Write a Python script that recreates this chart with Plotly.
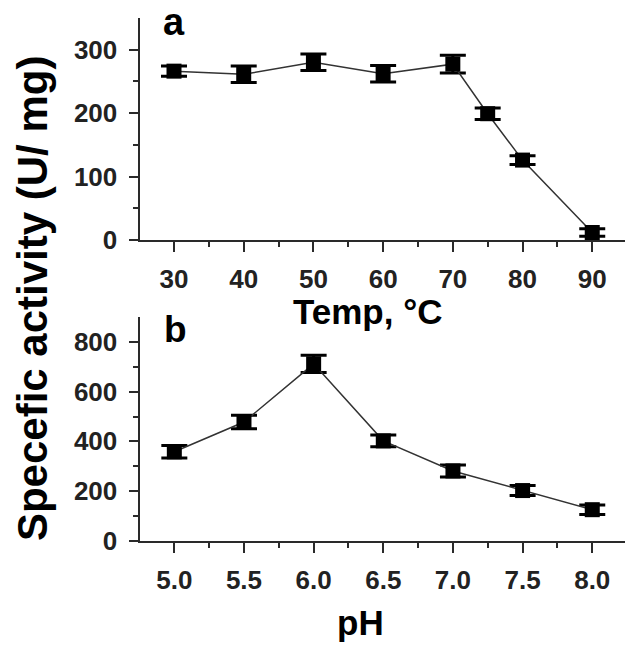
import plotly.graph_objects as go

# Panel a: temperature
temp = [30, 40, 50, 60, 70, 75, 80, 90]
act_temp = [266, 261, 280, 262, 277, 199, 126, 12]
err_temp = [8, 13, 13, 13, 14, 9, 7, 6]

# Panel b: pH
ph = [5.0, 5.5, 6.0, 6.5, 7.0, 7.5, 8.0]
act_ph = [358, 478, 712, 402, 281, 202, 125]
err_ph = [25, 27, 35, 24, 24, 20, 19]

temp_ticks = [30, 40, 50, 60, 70, 80, 90]
ph_ticks = [5.0, 5.5, 6.0, 6.5, 7.0, 7.5, 8.0]
ph_ticklabels = ["5.0", "5.5", "6.0", "6.5", "7.0", "7.5", "8.0"]

W, H = 625, 661
FONT = "Liberation Sans, Arial, Helvetica, sans-serif"
AX = "#2a2a2a"

fig = go.Figure()

def add_series(x, y, e, xa, ya):
    fig.add_trace(go.Scatter(
        x=x, y=y, xaxis=xa, yaxis=ya, mode="lines+markers",
        line=dict(color="#333333", width=1.5),
        marker=dict(symbol="square", size=15, color="black"),
        error_y=dict(type="data", array=e, visible=True, color="black",
                     thickness=3, width=13),
        showlegend=False, cliponaxis=False,
    ))

add_series(temp, act_temp, err_temp, "x", "y")
add_series(ph, act_ph, err_ph, "x2", "y2")

def pxx(p):
    return p / W

def pyy(p):
    return (H - p) / H

tickfont = dict(family=FONT, size=26, color="#222222", weight="bold")
common_axis = dict(showline=True, linecolor=AX, linewidth=2, ticks="outside",
                   tickcolor=AX, tickwidth=2, showgrid=False, zeroline=False,
                   tickfont=tickfont)

fig.update_layout(
    width=W, height=H, margin=dict(l=0, r=0, t=0, b=0),
    paper_bgcolor="white", plot_bgcolor="white",
    xaxis=dict(domain=[pxx(139.5), 1.0], range=[25.05, 94.7], anchor="y",
               tickvals=temp_ticks, ticklen=10, ticklabelstandoff=5,
               minor=dict(tickvals=[35, 45, 55, 65, 75, 85], ticklen=5,
                          tickcolor=AX, tickwidth=2, ticks="outside"),
               **common_axis),
    yaxis=dict(domain=[pyy(245.7), pyy(18.2)], range=[0, 350], anchor="x",
               tickvals=[0, 100, 200, 300], ticklen=9, ticklabelstandoff=6,
               minor=dict(tickvals=[50, 150, 250], ticklen=5,
                          tickcolor=AX, tickwidth=2, ticks="outside"),
               **common_axis),
    xaxis2=dict(domain=[pxx(139.5), 1.0], range=[4.75, 8.235], anchor="y2",
                tickvals=ph_ticks, ticktext=ph_ticklabels, ticklen=10,
                ticklabelstandoff=5,
                minor=dict(tickvals=[5.25, 5.75, 6.25, 6.75, 7.25, 7.75],
                           ticklen=5, tickcolor=AX, tickwidth=2, ticks="outside"),
                **common_axis),
    yaxis2=dict(domain=[pyy(553.3), pyy(324.5)], range=[0, 900], anchor="x2",
                tickvals=[0, 200, 400, 600, 800], ticklen=9, ticklabelstandoff=6,
                minor=dict(tickvals=[100, 300, 500, 700], ticklen=5,
                           tickcolor=AX, tickwidth=2, ticks="outside"),
                **common_axis),
)

def ann(text, x, y, size, angle=0, xanchor="center", yanchor="middle"):
    fig.add_annotation(text=text, x=pxx(x), y=pyy(y), xref="paper", yref="paper",
                       showarrow=False, textangle=angle, xanchor=xanchor, yanchor=yanchor,
                       font=dict(family=FONT, size=size, color="black", weight="bold"))

ann("a", 161, 22, 38, xanchor="left")
ann("b", 162, 337, 37, xanchor="left")
ann("Temp, °C", 367.5, 319, 35)
ann("pH", 360, 637, 35)
ann("Specefic activity (U/ mg)", 32, 306, 42, angle=-90)

fig.write_html("out.html")
